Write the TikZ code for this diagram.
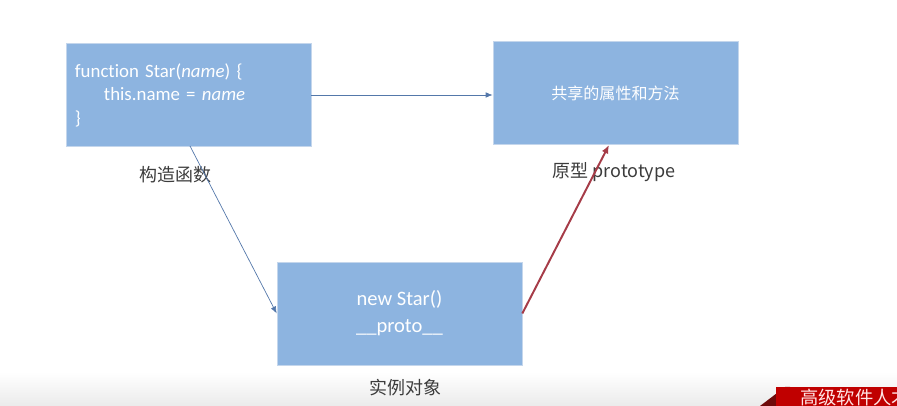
\documentclass[tikz,border=0pt]{standalone}
\usepackage{fontspec}
\setmainfont{Carlito}[Ligatures=NoCommon]
\newfontfamily\cjk{Noto Sans CJK SC}
\usepackage{tikz}
\usetikzlibrary{positioning,arrows.meta,calc}
\usepackage{xcolor}
\definecolor{boxblue}{RGB}{141,180,224}
\definecolor{boxedge}{RGB}{196,214,236}
\definecolor{linkblue}{RGB}{84,120,170}
\definecolor{protored}{RGB}{166,60,72}
\definecolor{labelgray}{RGB}{60,60,60}
\definecolor{bannerred}{RGB}{192,0,0}
\definecolor{bannerdark}{RGB}{110,10,10}

\tikzset{
  blockbox/.style={rectangle,draw=boxedge,fill=boxblue,text=white,
                   minimum width=6.125cm,minimum height=2.575cm,
                   font=\fontsize{13.4}{16.7}\selectfont},
  caption/.style={text=labelgray,font=\cjk\fontsize{12.8}{15}\selectfont},
  link/.style={-{Latex[length=5pt,width=4pt]},draw=linkblue,line width=0.5pt},
  protolink/.style={-{Latex[length=6pt,width=5pt]},draw=protored,line width=1.4pt}
}

\begin{document}
\begin{tikzpicture}[x=0.025cm,y=-0.025cm]
\useasboundingbox (0,0) rectangle (897,406);
% faint strip at the bottom of the slide
\shade[top color=white,bottom color=black!8] (0,372) rectangle (897,406);

% the three boxes
\node[blockbox,align=left,text width=5.675cm,inner xsep=0.225cm] (ctor) at (188.5,95) {
function Star(\textit{name}) \{\\
\hspace*{0.725cm}this.name = \textit{name}\\
\}
};
\node[blockbox] (proto) at (615.5,93) {\cjk\fontsize{11.4}{14}\selectfont 共享的属性和方法};
\node[blockbox,align=center,font=\fontsize{14.6}{19}\selectfont] (inst) at (399.5,313.5) {new Star()\\\_\_proto\_\_};

% captions
\node[caption] (ctorlabel) at (175,175) {构造函数};
\node[caption] (protolabel) at (614,172) {原型 prototype};
\node[caption] (instlabel) at (405,388) {实例对象};

% links
\coordinate (ctorside) at (ctor.east);
\draw[link] (ctorside) -- (ctorside -| proto.west);
\coordinate (ctorfoot) at (190,146);
\draw[link] (ctorfoot) -- (inst.west);
\coordinate (protofoot) at (609,145);
\draw[protolink] (inst.east) -- (protofoot);

% corner banner
\begin{scope}
\clip (0,0) rectangle (897,406);
\fill[bannerdark] (760,406) -- (785,387) -- (790,387) -- (790,406) -- cycle;
\fill[bannerred] (776,387) rectangle (920,406);
\node[anchor=west,text=white!90!red,font=\cjk\fontsize{13}{14}\selectfont,inner sep=0pt] (banner) at (800,397.5) {高级软件人才};
\end{scope}
\end{tikzpicture}
\end{document}
